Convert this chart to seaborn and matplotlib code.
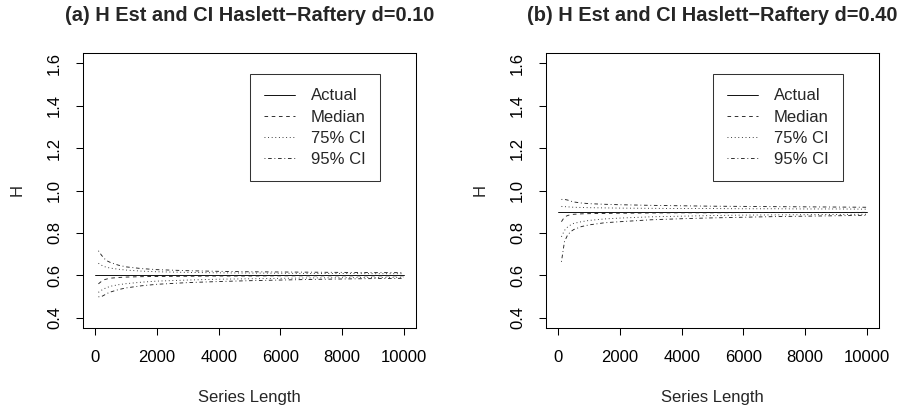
import numpy as np
import pandas as pd
import matplotlib
matplotlib.use("Agg")
import matplotlib.pyplot as plt
import seaborn as sns

# series lengths (x) for the estimates
series_len = [100, 200, 300, 400, 500, 750, 1000, 1500, 2000, 3000, 4000,
              5000, 6000, 7000, 8000, 9000, 10000]
actual_x = [0, 10000]

# panel (a) d=0.10, actual H = 0.6
a_actual = [0.6, 0.6]
a_median = [0.560, 0.572, 0.580, 0.584, 0.587, 0.590, 0.592, 0.594, 0.595,
            0.596, 0.597, 0.597, 0.598, 0.598, 0.598, 0.598, 0.598]
a_75_up = [0.657, 0.648, 0.641, 0.637, 0.634, 0.629, 0.625, 0.620, 0.617,
           0.614, 0.612, 0.611, 0.610, 0.609, 0.609, 0.608, 0.608]
a_75_lo = [0.520, 0.530, 0.538, 0.544, 0.549, 0.556, 0.561, 0.568, 0.573,
           0.578, 0.582, 0.584, 0.586, 0.588, 0.589, 0.590, 0.591]
a_95_up = [0.716, 0.695, 0.678, 0.667, 0.660, 0.648, 0.640, 0.632, 0.627,
           0.622, 0.619, 0.617, 0.616, 0.615, 0.614, 0.613, 0.613]
a_95_lo = [0.499, 0.500, 0.508, 0.516, 0.522, 0.533, 0.541, 0.551, 0.558,
           0.566, 0.571, 0.575, 0.578, 0.581, 0.583, 0.585, 0.586]

# panel (b) d=0.40, actual H = 0.9
b_actual = [0.9, 0.9]
b_median = [0.853, 0.875, 0.882, 0.886, 0.888, 0.890, 0.891, 0.892, 0.893,
            0.894, 0.895, 0.895, 0.896, 0.896, 0.896, 0.896, 0.897]
b_75_up = [0.925, 0.924, 0.923, 0.922, 0.921, 0.920, 0.919, 0.918, 0.917,
           0.916, 0.915, 0.915, 0.914, 0.914, 0.913, 0.913, 0.912]
b_75_lo = [0.782, 0.812, 0.828, 0.838, 0.845, 0.853, 0.859, 0.866, 0.870,
           0.876, 0.879, 0.882, 0.884, 0.885, 0.886, 0.887, 0.888]
b_95_up = [0.958, 0.958, 0.955, 0.950, 0.946, 0.941, 0.938, 0.935, 0.933,
           0.930, 0.928, 0.926, 0.925, 0.924, 0.923, 0.922, 0.921]
b_95_lo = [0.664, 0.760, 0.790, 0.806, 0.816, 0.830, 0.838, 0.848, 0.853,
           0.862, 0.867, 0.871, 0.874, 0.877, 0.879, 0.881, 0.883]

titles = ["(a) H Est and CI Haslett\u2212Raftery d=0.10",
          "(b) H Est and CI Haslett\u2212Raftery d=0.40"]

sns.set_style("white")
plt.rcParams["font.family"] = ["Liberation Sans", "DejaVu Sans"]
plt.rcParams["axes.edgecolor"] = "black"
plt.rcParams["axes.linewidth"] = 0.75

FS = 12
LW = 0.65
styles = {"Actual": "-", "Median": (0, (4, 4)),
          "75% CI": (0, (1, 3)), "95% CI": (0, (1, 3, 4, 3))}

fig = plt.figure(figsize=(8.97, 4.09), dpi=100)
ax_a = fig.add_axes([83 / 897, 1 - 328 / 409, 333 / 897, 275 / 409])
ax_b = fig.add_axes([546 / 897, 1 - 328 / 409, 333 / 897, 275 / 409])

panels = [
    (ax_a, a_actual, a_median, a_75_up, a_75_lo, a_95_up, a_95_lo),
    (ax_b, b_actual, b_median, b_75_up, b_75_lo, b_95_up, b_95_lo),
]

for i, (ax, act, med, u75, l75, u95, l95) in enumerate(panels):
    sns.lineplot(x=actual_x, y=act, ax=ax, color="black", lw=LW,
                 linestyle=styles["Actual"], label="Actual")
    sns.lineplot(x=series_len, y=med, ax=ax, color="#222222", lw=LW,
                 linestyle=styles["Median"], label="Median")
    sns.lineplot(x=series_len, y=u75, ax=ax, color="#222222", lw=LW,
                 linestyle=styles["75% CI"], label="75% CI")
    sns.lineplot(x=series_len, y=l75, ax=ax, color="#222222", lw=LW,
                 linestyle=styles["75% CI"])
    sns.lineplot(x=series_len, y=u95, ax=ax, color="#222222", lw=LW,
                 linestyle=styles["95% CI"], label="95% CI")
    sns.lineplot(x=series_len, y=l95, ax=ax, color="#222222", lw=LW,
                 linestyle=styles["95% CI"])

    ax.set_xlim(-400, 10400)
    ax.set_ylim(0.352, 1.648)
    ax.set_xticks(np.arange(0, 10001, 2000))
    ax.set_yticks([0.4, 0.6, 0.8, 1.0, 1.2, 1.4, 1.6])
    ax.set_yticklabels(["0.4", "0.6", "0.8", "1.0", "1.2", "1.4", "1.6"],
                       rotation=90, va="center")
    ax.tick_params(axis="both", direction="out", length=5, width=0.75,
                   labelsize=FS, colors="black", left=True, bottom=True)
    ax.tick_params(axis="x", pad=11)
    ax.tick_params(axis="y", pad=10)
    ax.set_xlabel("Series Length", fontsize=FS, labelpad=17.5)
    ax.set_ylabel("H", fontsize=FS, labelpad=16)
    ax.set_title(titles[i], fontsize=FS * 1.2, fontweight="bold", pad=23)

    leg = ax.legend(loc="upper left", bbox_to_anchor=(0.5015, 0.9225),
                    fontsize=FS, frameon=True, fancybox=False,
                    edgecolor="black", handlelength=1.85, handletextpad=0.95,
                    labelspacing=0.37, borderpad=0.85, borderaxespad=0)
    leg.get_frame().set_linewidth(0.75)

fig.savefig("out.png", dpi=100)
